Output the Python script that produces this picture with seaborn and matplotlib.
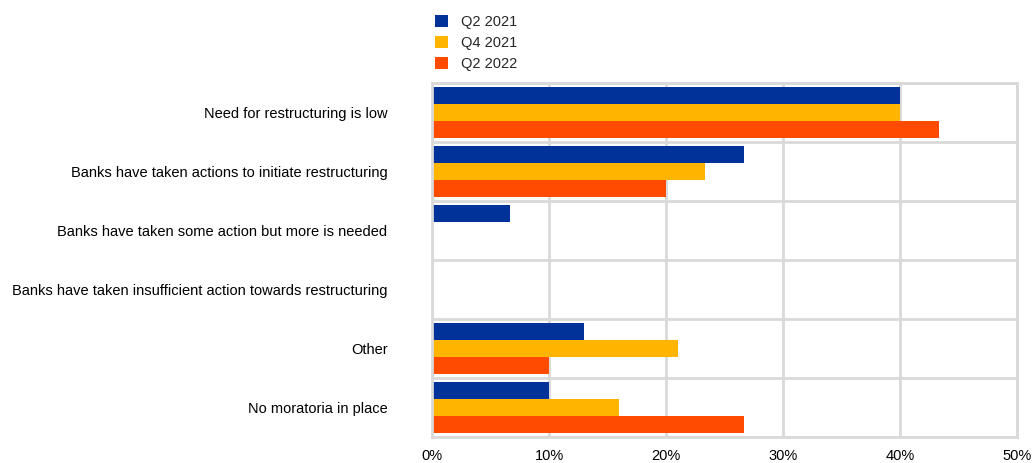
import matplotlib
matplotlib.use("Agg")
import matplotlib.pyplot as plt
import seaborn as sns
import pandas as pd
import numpy as np

categories = [
    "Need for restructuring is low",
    "Banks have taken actions to initiate restructuring",
    "Banks have taken some action but more is needed",
    "Banks have taken insufficient action towards restructuring",
    "Other",
    "No moratoria in place",
]
periods = ["Q2 2021", "Q4 2021", "Q2 2022"]
q2_2021 = [40.0, 26.7, 6.7, 0.0, 13.0, 10.0]
q4_2021 = [40.0, 23.3, 0.0, 0.0, 21.0, 16.0]
q2_2022 = [43.3, 20.0, 0.0, 0.0, 10.0, 26.7]
colors = ["#003299", "#FFB400", "#FF4B00"]

rows = []
for period, vals in zip(periods, [q2_2021, q4_2021, q2_2022]):
    for cat, v in zip(categories, vals):
        rows.append({"category": cat, "period": period, "value": v})
df = pd.DataFrame(rows)

sns.set_style("white")
plt.rcParams["font.family"] = ["Liberation Sans", "DejaVu Sans"]

fig = plt.figure(figsize=(10.34, 4.63), dpi=100)
ax = fig.add_axes([432 / 1034, 1 - 437 / 463, (1017 - 432) / 1034, (437 - 83) / 463])

sns.barplot(data=df, y="category", x="value", hue="period", order=categories,
            hue_order=periods, palette=colors, orient="h", width=0.86,
            saturation=1, linewidth=0, ax=ax, legend=True)

ax.set_xlim(0, 50)
ax.set_ylim(len(categories) - 0.5, -0.5)
ax.set_xticks(np.arange(0, 51, 10))
ax.set_xticklabels([f"{t}%" for t in range(0, 51, 10)])
ax.set_yticks(range(len(categories)))
ax.set_yticks(np.arange(-0.5, len(categories), 1), minor=True)
ax.set_xlabel("")
ax.set_ylabel("")

grid_c = "#d9d9d9"
ax.grid(axis="x", which="major", color=grid_c, linewidth=2)
ax.grid(axis="y", which="minor", color=grid_c, linewidth=2)
ax.grid(axis="y", which="major", visible=False)
ax.set_axisbelow(True)
for s in ax.spines.values():
    s.set_visible(True)
    s.set_color(grid_c)
    s.set_linewidth(2)

ax.tick_params(axis="y", which="both", length=0, pad=32, labelsize=10.5, colors="#000000")
ax.tick_params(axis="x", which="both", length=0, pad=9, labelsize=10.5, colors="#000000")

handles, labels = ax.get_legend_handles_labels()
ax.legend(handles, labels, loc="upper left", bbox_to_anchor=(420 / 1034, 1.0),
          bbox_transform=fig.transFigure, frameon=False, fontsize=10.5,
          handlelength=0.9, handleheight=0.9, handletextpad=0.9,
          labelspacing=0.5, borderaxespad=0.6)

fig.savefig("out.png", dpi=100)
